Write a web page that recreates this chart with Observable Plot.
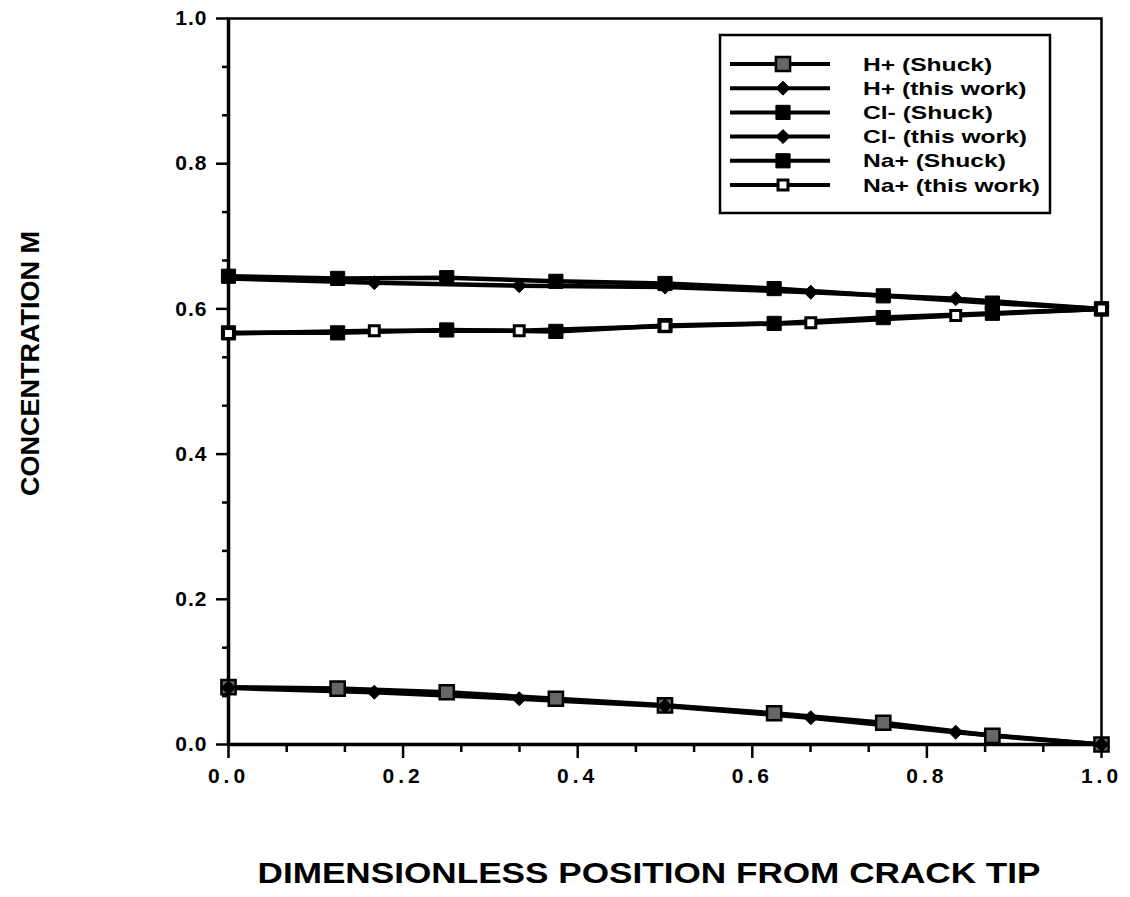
<!DOCTYPE html>
<html>
<head>
<meta charset="utf-8">
<script src="https://cdn.jsdelivr.net/npm/d3@7"></script>
<script src="https://cdn.jsdelivr.net/npm/@observablehq/plot@0.6"></script>
<style>
  html, body { margin: 0; padding: 0; background: #fff; }
  #chart svg { display: block; }
</style>
</head>
<body>
<div id="chart"></div>
<script>
// Positions along the crack (0 = tip, 1 = mouth)
const xShuck = [0, 0.125, 0.25, 0.375, 0.5, 0.625, 0.75, 0.875, 1.0];
const xWork = [0, 0.167, 0.333, 0.5, 0.667, 0.833, 1.0];

// Concentrations (M)
const hShuck = [0.079, 0.077, 0.072, 0.063, 0.054, 0.043, 0.030, 0.012, 0.0];
const hWork = [0.078, 0.072, 0.063, 0.053, 0.037, 0.017, 0.0];
const clShuck = [0.645, 0.642, 0.643, 0.638, 0.635, 0.628, 0.618, 0.608, 0.600];
const clWork = [0.642, 0.636, 0.632, 0.630, 0.623, 0.614, 0.600];
const naShuck = [0.567, 0.567, 0.571, 0.569, 0.577, 0.580, 0.588, 0.594, 0.600];
const naWork = [0.566, 0.570, 0.570, 0.576, 0.581, 0.591, 0.600];

const seriesNames = ["H+ (Shuck)", "H+ (this work)", "Cl- (Shuck)", "Cl- (this work)", "Na+ (Shuck)", "Na+ (this work)"];
const seriesX = [xShuck, xWork, xShuck, xWork, xShuck, xWork];
const seriesY = [hShuck, hWork, clShuck, clWork, naShuck, naWork];

const xTicks = [0, 0.2, 0.4, 0.6, 0.8, 1.0];
const yTicks = [0, 0.2, 0.4, 0.6, 0.8, 1.0];
const xLabel = "DIMENSIONLESS POSITION FROM CRACK TIP";
const yLabel = "CONCENTRATION M";

// marker style per series
const markerStyle = {
  "H+ (Shuck)":      {symbol: "square",   r: 8, fill: "#666",  stroke: "black", strokeWidth: 2.5},
  "H+ (this work)":  {symbol: "diamond2", r: 6.3, fill: "black", stroke: "black", strokeWidth: 1},
  "Cl- (Shuck)":     {symbol: "square",   r: 8, fill: "black", stroke: "black", strokeWidth: 1},
  "Cl- (this work)": {symbol: "diamond2", r: 6.3, fill: "black", stroke: "black", strokeWidth: 1},
  "Na+ (Shuck)":     {symbol: "square",   r: 8, fill: "black", stroke: "black", strokeWidth: 1},
  "Na+ (this work)": {symbol: "square",   r: 5.6, fill: "white", stroke: "black", strokeWidth: 3}
};

const rows = seriesNames.flatMap((name, i) =>
  seriesY[i].map((v, j) => ({series: name, x: seriesX[i][j], y: v}))
);

// minor ticks every 1/15
const minor = d3.range(0, 16).filter(k => k % 3 !== 0).map(k => k / 15);

const font = "'Liberation Sans', Arial, Helvetica, sans-serif";

const chart = Plot.plot({
  width: 1130,
  height: 897,
  marginLeft: 228,
  marginRight: 29,
  marginTop: 18,
  marginBottom: 153,
  x: {domain: [0, 1]},
  y: {domain: [0, 1]},
  style: {fontFamily: font, background: "white", color: "black"},
  marks: [
    Plot.axisY(minor, {tickSize: 6, tickFormat: () => "", strokeWidth: 2.5, label: null}),
    Plot.axisY(yTicks, {tickSize: 12, tickPadding: 9, tickFormat: d3.format(".1f"), fontSize: 21, fontWeight: "bold", strokeWidth: 2.5, label: null}),
    Plot.axisX(minor, {tickSize: 8, tickFormat: () => "", strokeWidth: 2.5, label: null}),
    Plot.axisX(xTicks, {tickSize: 14, tickPadding: 10, tickFormat: d3.format(".1f"), fontSize: 21, fontWeight: "bold", strokeWidth: 2.5, label: null}),
    Plot.frame({stroke: "black", strokeWidth: 2.5}),
    Plot.ruleX([0], {stroke: "black", strokeWidth: 3.5}),
    Plot.ruleY([0], {stroke: "black", strokeWidth: 3.5}),
    Plot.line(rows, {x: "x", y: "y", z: "series", stroke: "black", strokeWidth: 4.5}),
    ...seriesNames.map(name =>
      Plot.dot(rows.filter(d => d.series === name), {x: "x", y: "y", ...markerStyle[name]})
    ),
    Plot.text([xLabel], {frameAnchor: "bottom", textAnchor: "middle", lineAnchor: "middle", dx: -16, dy: 129,
      fontSize: 30, fontWeight: "bold", className: "xtitle"}),
    Plot.text([yLabel], {frameAnchor: "left", textAnchor: "middle", lineAnchor: "middle", rotate: -90, dx: -198, dy: -18,
      fontSize: 25, fontWeight: "bold", className: "ytitle"})
  ]
});

document.getElementById("chart").append(chart);

const svg = d3.select(chart);

// widen tick labels slightly (the lettering is spaced out)
svg.selectAll("g[aria-label='x-axis tick label'] text").attr("letter-spacing", "4px");
svg.selectAll("g[aria-label='y-axis tick label'] text").attr("letter-spacing", "1px");

// stretch the titles to their printed widths
svg.selectAll("g.xtitle text").attr("textLength", 783).attr("lengthAdjust", "spacingAndGlyphs");
svg.selectAll("g.ytitle text").attr("textLength", 265).attr("lengthAdjust", "spacingAndGlyphs");

// legend box
const lg = svg.append("g").attr("font-family", font).attr("text-anchor", "start");
lg.append("rect")
  .attr("x", 720).attr("y", 35).attr("width", 330).attr("height", 178)
  .attr("fill", "white").attr("stroke", "black").attr("stroke-width", 2.5);

const symbolTypes = {square: d3.symbolSquare, diamond2: d3.symbolDiamond2};
seriesNames.forEach((name, i) => {
  const st = markerStyle[name];
  const y = 64 + i * 24.2;
  lg.append("line")
    .attr("x1", 730).attr("x2", 830).attr("y1", y).attr("y2", y)
    .attr("stroke", "black").attr("stroke-width", 4);
  lg.append("path")
    .attr("transform", `translate(783,${y})`)
    .attr("d", d3.symbol(symbolTypes[st.symbol], Math.PI * st.r * st.r)())
    .attr("fill", st.fill).attr("stroke", st.stroke).attr("stroke-width", st.strokeWidth);
  const t = lg.append("text")
    .attr("x", 863).attr("y", y).attr("dy", "0.36em")
    .attr("text-anchor", "start")
    .attr("font-size", 18.5)
    .attr("font-weight", "bold")
    .text(name);
  const natural = t.node().getComputedTextLength();
  t.attr("textLength", natural * 1.33).attr("lengthAdjust", "spacingAndGlyphs");
});
</script>
</body>
</html>
